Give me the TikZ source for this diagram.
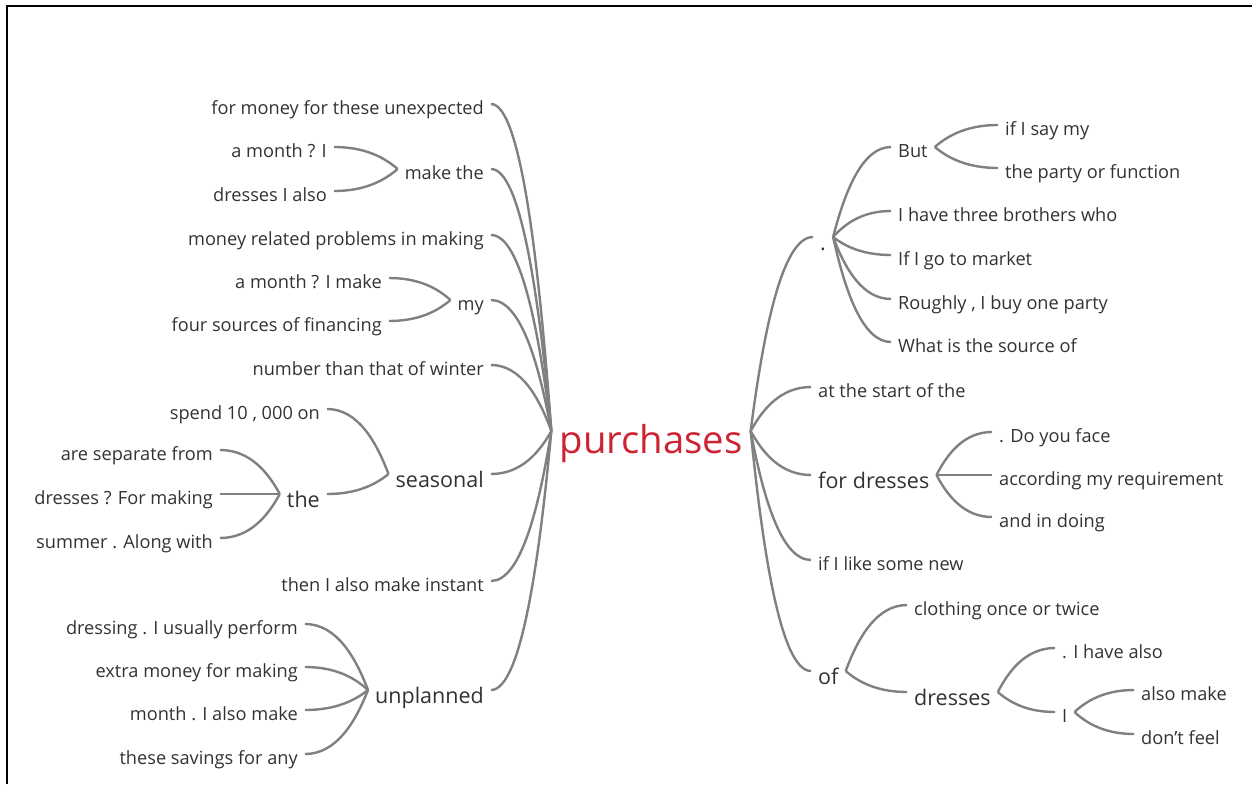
\documentclass[tikz,border=0pt]{standalone}
\usepackage{fontspec}
\setmainfont{Open Sans}
\usetikzlibrary{calc}
\definecolor{wordgray}{RGB}{50,50,50}
\definecolor{linkgray}{RGB}{128,128,128}
\definecolor{rootred}{RGB}{205,35,50}

% curved branch from a parent point out to a child point
\newcommand{\branch}[2]{%
  \draw[link] let \p1=(#1), \p2=(#2) in
    (\p1) .. controls ({\x1+0.2*(\x2-\x1)},{\y1+0.5*(\y2-\y1)}) and ({\x1+0.5*(\x2-\x1)},\y2) .. (\p2);}

\begin{document}
\begin{tikzpicture}[x=1pt, y=-1pt,
    leaf/.style={font=\fontsize{18.2}{21}\selectfont, text=wordgray, inner xsep=7pt, inner ysep=0pt, text height=21pt, text depth=0pt},
    word/.style={leaf, font=\fontsize{21.5}{24}\selectfont, text height=26pt},
    root/.style={font=\fontsize{38.3}{42}\selectfont, text=rootred, inner xsep=8pt, inner ysep=0pt, text height=44pt, text depth=0pt},
    link/.style={draw=linkgray, line width=2.4pt}]
        \useasboundingbox (0,0) rectangle (1252,784);
        % Draw the frame (top and left only)
        \draw[line width=2pt] (7,784) -- (7,6) -- (1252,6);

        % Draw the root word
        \node[root] (purchases) at (651,431) {purchases};

        % Draw the words on the left
        \node[leaf, anchor=east] (l1) at (491,104) {for money for these unexpected};
        \node[leaf, anchor=east] (l2) at (491,169) {make the};
        \node[leaf, anchor=east] (l2a) at (334,147) {a month ? I};
        \node[leaf, anchor=east] (l2b) at (334,191) {dresses I also};
        \node[leaf, anchor=east] (l3) at (491,235) {money related problems in making};
        \node[leaf, anchor=east] (l4) at (491,300) {my};
        \node[leaf, anchor=east] (l4a) at (389,278) {a month ? I make};
        \node[leaf, anchor=east] (l4b) at (389,321) {four sources of financing};
        \node[leaf, anchor=east] (l5) at (491,365) {number than that of winter};
        \node[word, anchor=east] (l6) at (491,474) {seasonal};
        \node[leaf, anchor=east] (l6a) at (327,409) {spend 10 , 000 on};
        \node[word, anchor=east] (l6b) at (327,494) {the};
        \node[leaf, anchor=east] (l6b1) at (220,450) {are separate from};
        \node[leaf, anchor=east] (l6b2) at (220,494) {dresses ? For making};
        \node[leaf, anchor=east] (l6b3) at (220,538) {summer . Along with};
        \node[leaf, anchor=east] (l7) at (491,581) {then I also make instant};
        \node[word, anchor=east] (l8) at (491,690) {unplanned};
        \node[leaf, anchor=east] (l8a) at (305,624) {dressing . I usually perform};
        \node[leaf, anchor=east] (l8b) at (305,667) {extra money for making};
        \node[leaf, anchor=east] (l8c) at (305,710) {month . I also make};
        \node[leaf, anchor=east] (l8d) at (305,754) {these savings for any};

        % Draw the words on the right
        \node[word, anchor=west] (r1) at (813,237) {.};
        \node[leaf, anchor=west] (r1a) at (891,147) {But};
        \node[leaf, anchor=west] (r1a1) at (998,125) {if I say my};
        \node[leaf, anchor=west] (r1a2) at (998,168) {the party or function};
        \node[leaf, anchor=west] (r1b) at (891,211) {I have three brothers who};
        \node[leaf, anchor=west] (r1c) at (891,255) {If I go to market};
        \node[leaf, anchor=west] (r1d) at (891,299) {Roughly , I buy one party};
        \node[leaf, anchor=west] (r1e) at (891,342) {What is the source of};
        \node[leaf, anchor=west] (r2) at (811,387) {at the start of the};
        \node[word, anchor=west] (r3) at (811,475) {for dresses};
        \node[leaf, anchor=west] (r3a) at (992,432) {. Do you face};
        \node[leaf, anchor=west] (r3b) at (992,475) {according my requirement};
        \node[leaf, anchor=west] (r3c) at (992,517) {and in doing};
        \node[leaf, anchor=west] (r4) at (811,560) {if I like some new};
        \node[word, anchor=west] (r5) at (811,671) {of};
        \node[leaf, anchor=west] (r5a) at (907,605) {clothing once or twice};
        \node[word, anchor=west] (r5b) at (907,692) {dresses};
        \node[leaf, anchor=west] (r5b1) at (1055,648) {. I have also};
        \node[leaf, anchor=west] (r5b2) at (1055,712) {I};
        \node[leaf, anchor=west] (r5b2a) at (1134,690) {also make};
        \node[leaf, anchor=west] (r5b2b) at (1134,734) {don't feel};

        % Connect the left side
        \foreach \c in {l1,l2,l3,l4,l5,l6,l7,l8} {\branch{purchases.west}{\c.east}}
        \foreach \c in {l2a,l2b} {\branch{l2.west}{\c.east}}
        \foreach \c in {l4a,l4b} {\branch{l4.west}{\c.east}}
        \foreach \c in {l6a,l6b} {\branch{l6.west}{\c.east}}
        \foreach \c in {l6b1,l6b2,l6b3} {\branch{l6b.west}{\c.east}}
        \foreach \c in {l8a,l8b,l8c,l8d} {\branch{l8.west}{\c.east}}

        % Connect the right side
        \foreach \c in {r1,r2,r3,r4,r5} {\branch{purchases.east}{\c.west}}
        \foreach \c in {r1a,r1b,r1c,r1d,r1e} {\branch{r1.east}{\c.west}}
        \foreach \c in {r1a1,r1a2} {\branch{r1a.east}{\c.west}}
        \foreach \c in {r3a,r3b,r3c} {\branch{r3.east}{\c.west}}
        \foreach \c in {r5a,r5b} {\branch{r5.east}{\c.west}}
        \foreach \c in {r5b1,r5b2} {\branch{r5b.east}{\c.west}}
        \foreach \c in {r5b2a,r5b2b} {\branch{r5b2.east}{\c.west}}
      \end{tikzpicture}
\end{document}
